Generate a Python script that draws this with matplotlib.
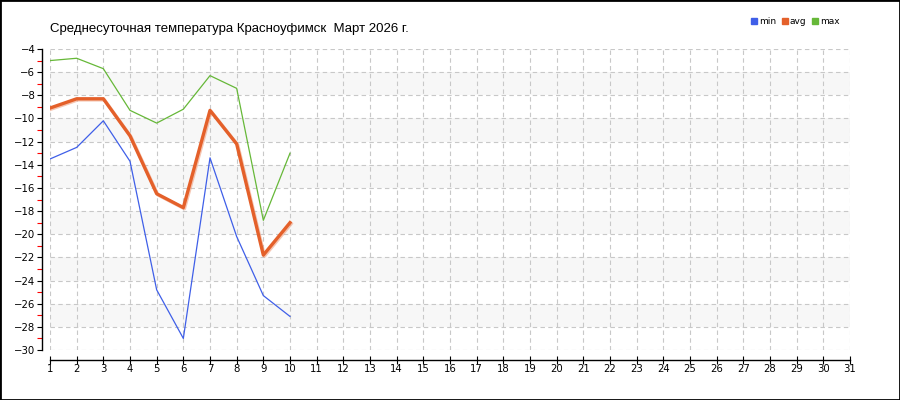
import matplotlib.pyplot as plt
import matplotlib.patheffects as pe
from matplotlib.lines import Line2D
from matplotlib.patches import Rectangle

days = list(range(1, 11))
t_min = [-13.5, -12.5, -10.2, -13.7, -24.8, -29.0, -13.4, -20.2, -25.3, -27.1]
t_avg = [-9.1, -8.3, -8.3, -11.5, -16.5, -17.7, -9.3, -12.2, -21.8, -19.0]
t_max = [-5.0, -4.8, -5.7, -9.3, -10.4, -9.2, -6.3, -7.4, -18.8, -13.0]

title = "Среднесуточная температура Красноуфимск  Март 2026 г."

c_min = "#3f5fe8"
c_avg = "#e4602a"
c_max = "#66b838"

plt.rcParams['font.family'] = ['DejaVu Sans']

fig = plt.figure(figsize=(9, 4), dpi=100)
ax = fig.add_axes([50 / 900, 50 / 400, 800 / 900, 301 / 400])

# light bands every other 2 degrees
for lo in range(-8, -29, -4):
    ax.axhspan(lo, lo + 2, color="#f7f7f7", zorder=0, lw=0)

ax.plot(days, t_min, color=c_min, lw=0.9, zorder=3)
ax.plot(days, t_max, color=c_max, lw=0.9, zorder=3)
ax.plot(days, t_avg, color=c_avg, lw=2.4, zorder=4,
        path_effects=[pe.SimpleLineShadow(offset=(0.8, -0.8), shadow_color="#f0a080", alpha=0.6),
                      pe.Normal()])

ax.set_xlim(1, 31)
ax.set_ylim(-30, -4)
ax.set_xticks(range(1, 32))
ax.set_yticks(range(-30, -3, 2))
ax.set_yticks(range(-29, -4, 2), minor=True)
ax.grid(True, which="major", color="#c8c8c8", ls=(0, (4, 3)), lw=0.8)

for s in ("top", "right"):
    ax.spines[s].set_visible(False)
ax.spines["left"].set_position(("outward", 6))
ax.spines["bottom"].set_position(("outward", 7))
ax.spines["left"].set_linewidth(1.0)
ax.spines["bottom"].set_linewidth(1.0)

ax.tick_params(axis="y", which="major", direction="out", length=3.5, width=0.8,
               labelsize=7.3, pad=1, colors="black")
ax.tick_params(axis="y", which="minor", direction="out", length=3.5, width=0.8, color="red")
ax.tick_params(axis="x", which="major", direction="inout", length=6, width=0.8,
               labelsize=7.3, pad=0)

fig.text(50 / 900, 1 - 29 / 400, title, fontsize=9.5, va="center", ha="left",
         family="Liberation Sans")

handles = [Line2D([], [], ls="", marker="s", ms=4, color=c) for c in (c_min, c_avg, c_max)]
fig.legend(handles, ["min", "avg", "max"], loc="center", bbox_to_anchor=(795 / 900, 1 - 22 / 400),
           ncol=3, frameon=False, fontsize=6.5, handletextpad=0.1, columnspacing=0.6,
           handlelength=0.8)

fig.patches.append(Rectangle((0, 0), 1, 1, transform=fig.transFigure, fill=False,
                             ec="black", lw=2, zorder=10))

fig.savefig("out.png", dpi=100)
